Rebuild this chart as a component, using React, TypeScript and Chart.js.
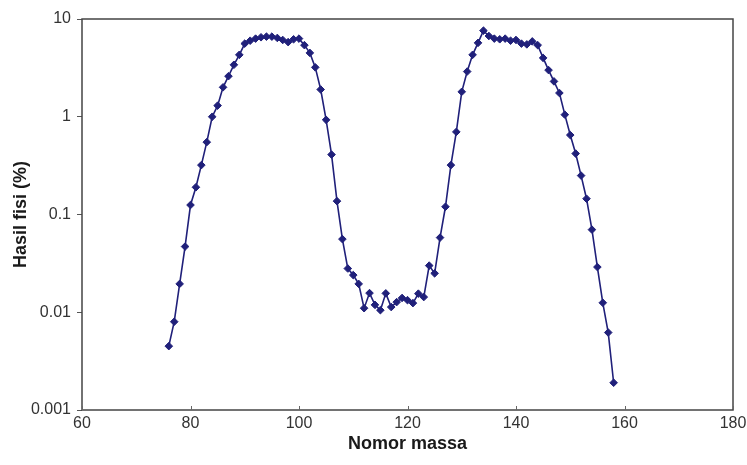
import React, { useEffect, useRef } from "react";
import { Chart, registerables } from "chart.js";

Chart.register(...registerables);

const massNumbers = [
  76, 77, 78, 79, 80, 81, 82, 83, 84, 85, 86, 87, 88, 89, 90, 91, 92, 93, 94, 95,
  96, 97, 98, 99, 100, 101, 102, 103, 104, 105, 106, 107, 108, 109, 110, 111, 112,
  113, 114, 115, 116, 117, 118, 119, 120, 121, 122, 123, 124, 125, 126, 127, 128,
  129, 130, 131, 132, 133, 134, 135, 136, 137, 138, 139, 140, 141, 142, 143, 144,
  145, 146, 147, 148, 149, 150, 151, 152, 153, 154, 155, 156, 157, 158,
];

const fissionYield = [
  0.0045, 0.008, 0.0195, 0.047, 0.125, 0.19, 0.32, 0.55, 1.0, 1.3, 2.0, 2.6, 3.4,
  4.3, 5.6, 6.0, 6.3, 6.5, 6.6, 6.6, 6.4, 6.1, 5.8, 6.2, 6.3, 5.4, 4.5, 3.2, 1.9,
  0.93, 0.41, 0.137, 0.056, 0.028, 0.024, 0.0195, 0.011, 0.0157, 0.0119, 0.0105,
  0.0156, 0.0113, 0.0127, 0.014, 0.0133, 0.0124, 0.0155, 0.0143, 0.03, 0.025,
  0.058, 0.12, 0.32, 0.7, 1.8, 2.9, 4.3, 5.7, 7.6, 6.7, 6.3, 6.2, 6.3, 6.0, 6.1,
  5.6, 5.5, 5.9, 5.4, 4.0, 3.0, 2.3, 1.75, 1.05, 0.65, 0.42, 0.25, 0.145, 0.07,
  0.029, 0.0125, 0.0062, 0.0019,
];

const yTickValues = [0.001, 0.01, 0.1, 1, 10];
const yTickLabels = ["0.001", "0.01", "0.1", "1", "10"];
const xTickValues = [60, 80, 100, 120, 140, 160, 180];

const xTitle = "Nomor massa";
const yTitle = "Hasil fisi (%)";

const FONT = "'Liberation Sans', Arial, sans-serif";
const LINE_COLOR = "#20207a";

const framePlugin = {
  id: "frame",
  afterDraw(chart: any) {
    const { ctx, chartArea } = chart;
    const { left, right, top, bottom } = chartArea;
    ctx.save();
    ctx.strokeStyle = "#444";
    ctx.lineWidth = 1.5;
    ctx.strokeRect(left, top, right - left, bottom - top);
    const xs = chart.scales.x;
    ctx.lineWidth = 1;
    ctx.strokeStyle = "#666";
    xTickValues.forEach((v) => {
      const px = Math.round(xs.getPixelForValue(v)) + 0.5;
      ctx.beginPath();
      ctx.moveTo(px, bottom);
      ctx.lineTo(px, bottom - 4);
      ctx.stroke();
    });
    ctx.restore();
  },
};

export default function App() {
  const canvasRef = useRef<HTMLCanvasElement | null>(null);

  useEffect(() => {
    document.body.style.margin = "0";
    const canvas = canvasRef.current;
    if (!canvas) return;
    const points = massNumbers.map((m, i) => ({ x: m, y: fissionYield[i] }));
    const chart = new Chart(canvas, {
      type: "line",
      data: {
        datasets: [
          {
            data: points,
            borderColor: LINE_COLOR,
            backgroundColor: LINE_COLOR,
            borderWidth: 1.6,
            pointStyle: "rectRot",
            pointRadius: 3.8,
            pointBorderWidth: 1,
            pointBackgroundColor: LINE_COLOR,
            pointBorderColor: LINE_COLOR,
            tension: 0,
          },
        ],
      },
      options: {
        responsive: false,
        animation: false,
        layout: { padding: { top: 19, right: 14, left: 0, bottom: 0 } },
        plugins: {
          legend: { display: false },
          tooltip: { enabled: false },
        },
        scales: {
          x: {
            type: "linear",
            min: 60,
            max: 180,
            afterBuildTicks(scale: any) {
              scale.ticks = xTickValues.map((v) => ({ value: v }));
            },
            afterFit(scale: any) {
              scale.height = 55;
              scale.paddingLeft = 0;
              scale.paddingRight = 0;
            },
            grid: { display: false, drawTicks: false },
            border: { display: false },
            ticks: {
              padding: 4,
              color: "#333",
              font: { family: FONT, size: 16 },
              maxRotation: 0,
            },
            title: {
              display: true,
              text: xTitle,
              color: "#1a1a1a",
              font: { family: FONT, size: 18, weight: "bold" },
              padding: { top: 0, bottom: 10 },
            },
          },
          y: {
            type: "logarithmic",
            min: 0.001,
            max: 10,
            afterBuildTicks(scale: any) {
              scale.ticks = yTickValues.map((v) => ({ value: v }));
            },
            afterFit(scale: any) {
              scale.width = 82;
              scale.paddingTop = 0;
              scale.paddingBottom = 0;
            },
            grid: {
              display: true,
              drawOnChartArea: false,
              drawTicks: true,
              tickLength: 5,
              color: "#555",
            },
            border: { display: false },
            ticks: {
              padding: 6,
              color: "#333",
              font: { family: FONT, size: 16 },
              callback: (value: any) => {
                const idx = yTickValues.findIndex(
                  (t) => Math.abs(Math.log10(t) - Math.log10(Number(value))) < 1e-6
                );
                return idx >= 0 ? yTickLabels[idx] : "";
              },
            },
            title: {
              display: true,
              text: yTitle,
              color: "#1a1a1a",
              font: { family: FONT, size: 18, weight: "bold" },
              padding: { top: 10, bottom: 0 },
            },
          },
        },
      },
      plugins: [framePlugin],
    });
    return () => chart.destroy();
  }, []);

  return (
    <div style={{ width: 747, height: 465, background: "#fff" }}>
      <canvas ref={canvasRef} width={747} height={465} />
    </div>
  );
}
